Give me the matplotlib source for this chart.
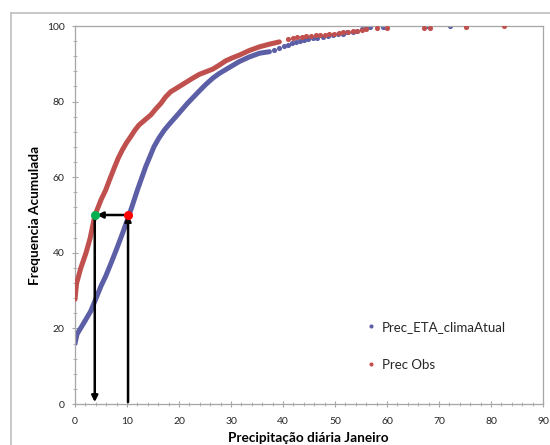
import matplotlib
matplotlib.use("Agg")
import matplotlib.pyplot as plt
from matplotlib.lines import Line2D
from matplotlib.ticker import MultipleLocator

plt.rcParams["font.family"] = ["Lato", "DejaVu Sans"]

# cumulative frequency (%) vs daily precipitation (mm)
# dense lower part of each curve
eta_x = [0, 0.4, 1.5, 3.0, 4.0, 5.0, 5.9, 7.0, 8.0, 9.1, 10.1, 11.0, 12.0, 13.6,
         15.2, 16.2, 17.2, 18.3, 19.4, 21.6, 23.9, 25.2, 26.5, 27.8, 29.4, 31.6,
         33.5, 35.5, 37.4]
eta_y = [16.0, 18.5, 21.0, 24.5, 27.8, 31.2, 33.8, 37.5, 41.0, 45.0, 48.8, 52.4,
         56.6, 62.8, 68.1, 70.5, 72.5, 74.3, 76.0, 79.5, 82.8, 84.6, 86.2, 87.5,
         88.8, 90.6, 91.8, 92.8, 93.2]
# sparser upper part (individual dots)
eta_up_x = [38.3, 39.3, 40.2, 41.0, 41.8, 42.5, 43.3, 44.1, 44.9, 45.7, 46.6,
            47.6, 48.6, 49.6, 50.5, 51.5, 52.4, 53.4, 54.3, 55.2, 56.0, 56.7,
            59.2, 59.6, 67.7, 72.2]
eta_up_y = [93.6, 94.1, 94.6, 95.1, 95.5, 95.8, 96.0, 96.3, 96.5, 96.7, 96.9,
            97.1, 97.4, 97.6, 97.8, 98.0, 98.3, 98.5, 98.8, 99.2, 99.6, 99.7,
            99.8, 99.8, 100.0, 100.0]

obs_x = [0, 0.3, 1.1, 2.1, 2.9, 3.5, 3.8, 5.0, 5.9, 6.7, 7.5, 8.3, 9.1, 9.9,
         10.7, 11.5, 12.3, 13.4, 14.6, 15.5, 16.5, 17.4, 18.4, 19.6, 21.0, 22.4,
         23.9, 25.2, 26.5, 27.8, 29.0, 30.3, 31.6, 33.5, 35.5, 37.4, 39.3]
obs_y = [27.7, 31.9, 35.9, 39.9, 43.8, 47.8, 49.8, 54.0, 56.6, 59.5, 62.3, 65.0,
         67.2, 69.1, 70.7, 72.4, 73.8, 75.1, 76.5, 78.0, 79.5, 81.2, 82.6, 83.6,
         84.8, 86.0, 87.2, 87.9, 88.6, 89.7, 90.8, 91.6, 92.3, 93.5, 94.5, 95.2,
         95.8]
obs_up_x = [41.0, 41.9, 42.7, 43.6, 44.5, 45.4, 46.3, 47.2, 48.0, 48.9, 49.8,
            50.7, 51.6, 52.5, 53.4, 54.3, 55.2, 56.0, 58.1, 60.0, 67.1, 68.3,
            75.2, 82.5]
obs_up_y = [96.5, 96.8, 97.0, 97.2, 97.3, 97.4, 97.5, 97.6, 97.7, 97.85, 98.0,
            98.15, 98.3, 98.45, 98.6, 98.75, 98.95, 99.2, 99.4, 99.6, 99.6, 99.6,
            99.8, 100.0]

# quantile mapping at the 50 % level
map_level = 50
obs_q50 = 3.8
eta_q50 = 10.2

BLUE = "#5c5fa6"
RED = "#c0504d"
GRID = "#a6a6a6"
TXT = "#262626"

fig = plt.figure(figsize=(5.5, 4.45), dpi=100)
ax = fig.add_axes([75 / 550, 41 / 445, 468 / 550, 378 / 445])

ax.plot(eta_x, eta_y, "-", color=BLUE, lw=3.6, solid_capstyle="round",
        solid_joinstyle="round", zorder=2)
ax.plot(eta_up_x, eta_up_y, "o", color=BLUE, ms=3.7, mew=0, zorder=2,
        label="Prec_ETA_climaAtual")
ax.plot(obs_x, obs_y, "-", color=RED, lw=3.6, solid_capstyle="round",
        solid_joinstyle="round", zorder=3)
ax.plot(obs_up_x, obs_up_y, "o", color=RED, ms=3.7, mew=0, zorder=3,
        label="Prec Obs")

arrow = dict(arrowstyle="-|>", color="black", lw=1.8, mutation_scale=9,
             shrinkA=0, shrinkB=0)
ax.annotate("", xy=(obs_q50, 0.5), xytext=(obs_q50, map_level), arrowprops=arrow, zorder=4)
ax.annotate("", xy=(eta_q50, map_level), xytext=(eta_q50, 0.5), arrowprops=arrow, zorder=4)
ax.annotate("", xy=(obs_q50 + 0.4, map_level), xytext=(eta_q50, map_level),
            arrowprops=arrow, zorder=4)
ax.plot([obs_q50], [map_level], "o", color="#00b050", ms=6.5, mew=0, zorder=5)
ax.plot([eta_q50], [map_level], "o", color="#ff0000", ms=6.5, mew=0, zorder=5)

ax.set_xlim(0, 90)
ax.set_ylim(0, 100)
ax.xaxis.set_major_locator(MultipleLocator(10))
ax.xaxis.set_minor_locator(MultipleLocator(2))
ax.yaxis.set_major_locator(MultipleLocator(20))
ax.yaxis.set_minor_locator(MultipleLocator(4))
for s in ax.spines.values():
    s.set_color(GRID)
    s.set_linewidth(0.9)
ax.tick_params(which="major", direction="inout", length=5, width=0.8, color=GRID,
               labelsize=7.5, labelcolor=TXT)
ax.tick_params(which="minor", direction="inout", length=3, width=0.6, color=GRID)
ax.tick_params(axis="x", which="major", pad=7)
ax.tick_params(axis="y", which="major", pad=5)

fig.text(308 / 550, 1 - 438 / 445, "Precipitação diária Janeiro", ha="center",
         va="center", fontsize=9.8, fontweight="bold", color="black")
fig.text(35 / 550, 1 - 215 / 445, "Frequencia Acumulada", ha="center",
         va="center", rotation=90, fontsize=9.8, fontweight="bold", color="black")

leg = ax.legend(loc="center left", bbox_to_anchor=(0.60, 0.154), frameon=False,
                fontsize=9.5, handlelength=0.5, handletextpad=0.6,
                labelspacing=2.0, markerscale=0.8)
for t in leg.get_texts():
    t.set_color(TXT)

# outer chart-area border
fig.add_artist(Line2D([11 / 550, 11 / 550], [0, 1 - 13 / 445], color="#bfbfbf", lw=1.2))
fig.add_artist(Line2D([11 / 550, 1], [1 - 13 / 445, 1 - 13 / 445], color="#bfbfbf", lw=1.2))

fig.savefig("out.png", dpi=100)
